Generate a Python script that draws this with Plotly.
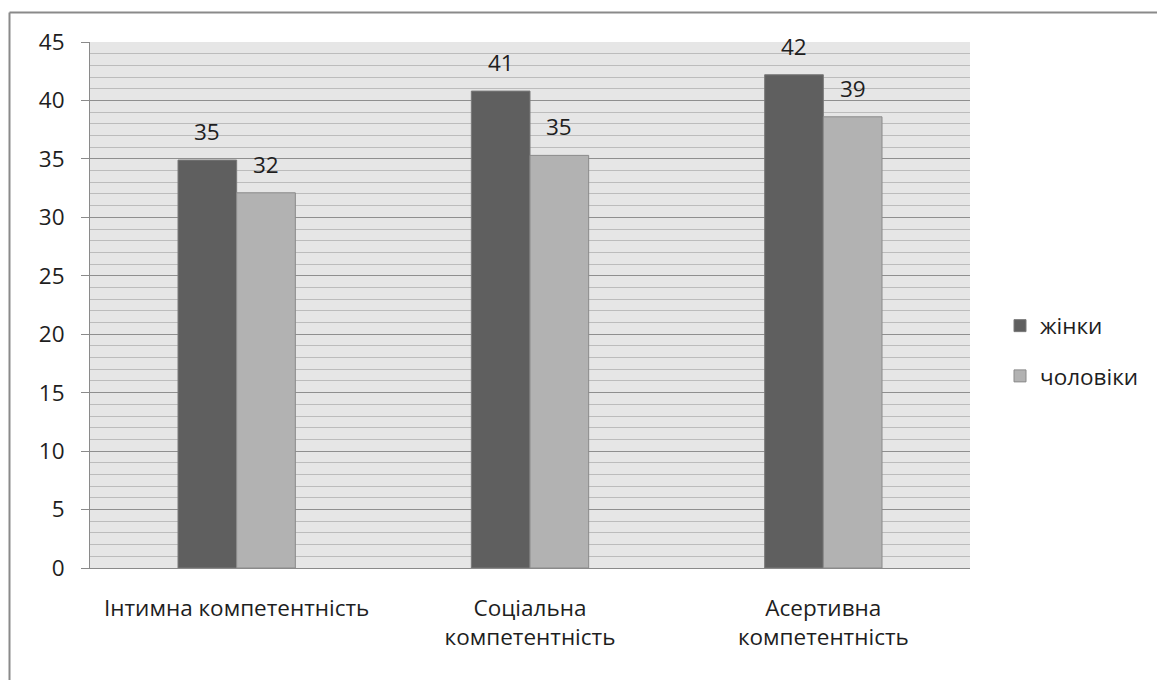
import plotly.graph_objects as go

categories = ["Інтимна компетентність", "Соціальна<br>компетентність", "Асертивна<br>компетентність"]
women = [34.9, 40.8, 42.2]
men = [32.1, 35.3, 38.6]
women_labels = ["35", "41", "42"]
men_labels = ["32", "35", "39"]
series_names = ["жінки", "чоловіки"]
y_ticks = [0, 5, 10, 15, 20, 25, 30, 35, 40, 45]

W, H = 1157, 680
L, R, T, B = 90, 970, 42, 568
FONT = "Open Sans"
FS = 22.5

fig = go.Figure()
fig.add_trace(go.Bar(x=categories, y=women, name=series_names[0],
                     marker=dict(color="#5f5f5f", line=dict(color="#7a7a7a", width=1)),
                     legendgroup="a"))
fig.add_trace(go.Bar(x=categories, y=men, name=series_names[1],
                     marker=dict(color="#b2b2b2", line=dict(color="#8a8a8a", width=1)),
                     legendgroup="b"))

bar_px = 0.2 * (R - L) / 3
for vals, labs, sh in [(women, women_labels, -bar_px / 2), (men, men_labels, bar_px / 2)]:
    for c, v, t in zip(categories, vals, labs):
        fig.add_annotation(x=c, y=v, text=t, showarrow=False, xshift=sh, yshift=11,
                           yanchor="bottom", font=dict(size=FS, color="#1e1e1e", family=FONT))

def px(x):
    return (x - L) / (R - L)

def py(y):
    return (B - y) / (B - T)

# outer chart border (left and top)
fig.add_shape(type="line", xref="paper", yref="paper", x0=px(9.5), x1=px(9.5), y0=py(700), y1=py(12.5),
              line=dict(color="#8a8a8a", width=2))
fig.add_shape(type="line", xref="paper", yref="paper", x0=px(9.5), x1=px(1160), y0=py(12.5), y1=py(12.5),
              line=dict(color="#8a8a8a", width=2))

fig.update_layout(
    width=W, height=H,
    margin=dict(l=L, r=W - R, t=T, b=H - B),
    paper_bgcolor="white",
    plot_bgcolor="#e6e6e6",
    barmode="group",
    bargap=0.6,
    bargroupgap=0,
    font=dict(family=FONT, size=FS, color="#1e1e1e"),
    showlegend=True,
    legend=dict(x=px(1000), y=py(351), xanchor="left", yanchor="middle",
                font=dict(size=FS, color="#1e1e1e", family=FONT), tracegroupgap=18,
                bgcolor="rgba(0,0,0,0)"),
    xaxis=dict(showgrid=False, showline=True, linecolor="#8a8a8a", linewidth=1,
               ticks="", ticklabelstandoff=20, tickfont=dict(size=FS)),
    yaxis=dict(range=[0, 45], tickvals=y_ticks, showgrid=True, gridcolor="#8f8f8f", gridwidth=1,
               showline=True, linecolor="#8a8a8a", linewidth=1, zeroline=False,
               ticks="outside", ticklen=8, tickcolor="#8a8a8a", ticklabelstandoff=12,
               tickfont=dict(size=FS),
               minor=dict(dtick=1, showgrid=True, gridcolor="#bcbcbc", gridwidth=1, ticks="")),
)

fig.write_html("out.html")
